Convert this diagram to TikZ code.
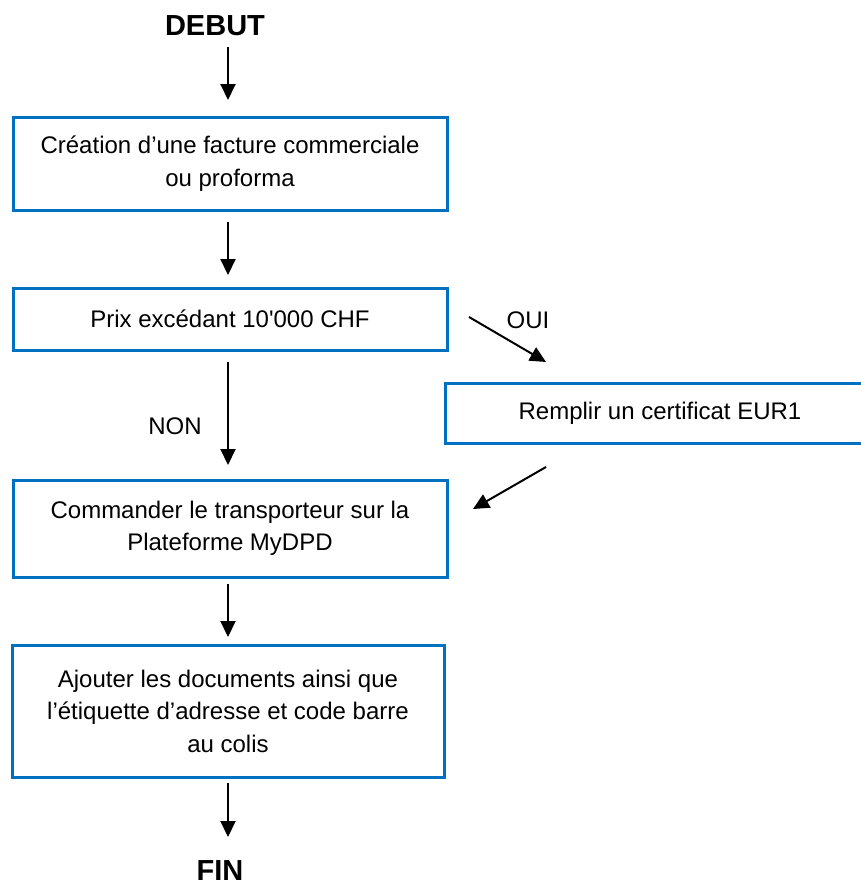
\documentclass[tikz,border=0pt]{standalone}
\usepackage{fontspec}
\setmainfont{Liberation Sans}
\usetikzlibrary{arrows.meta}
\definecolor{boxblue}{HTML}{0070C0}
\begin{document}
\begin{tikzpicture}[x=1pt,y=-1pt,
  box/.style={draw=boxblue,line width=3pt,align=center,inner sep=0pt,
    font=\fontsize{24}{32.5}\selectfont},
  term/.style={font=\fontsize{29}{32}\selectfont\bfseries,inner sep=0pt},
  lbl/.style={font=\fontsize{24}{32}\selectfont,inner sep=0pt},
  arr/.style={line width=2pt,-{Triangle[length=16pt,width=15pt]}}]
\useasboundingbox (0,0) rectangle (861,886);
\clip (0,0) rectangle (861,886);
\fill[white] (0,0) rectangle (861,886);
\node[term] (debut) at (215,26) {DEBUT};
\node[box,minimum width=434pt,minimum height=93pt] (b1) at (230,163.5)
  {Création d’une facture commerciale\\ou proforma};
\node[box,minimum width=434pt,minimum height=62pt] (b2) at (230,319)
  {Prix excédant 10\textquotesingle000 CHF};
\node[box,minimum width=430pt,minimum height=60pt] (eur) at (660,413)
  {Remplir un certificat EUR1};
\node[box,minimum width=434pt,minimum height=97pt] (b3) at (230,528.5)
  {Commander le transporteur sur la\\Plateforme MyDPD};
\node[box,minimum width=432pt,minimum height=132pt] (b4) at (228,711)
  {Ajouter les documents ainsi que\\l’étiquette d’adresse et code barre\\au colis};
\node[term] (fin) at (220,871) {FIN};
\node[lbl] (non) at (175,426) {NON};
\node[lbl] (oui) at (528,320) {OUI};
\coordinate (a1s) at (228,47); \coordinate (a1e) at (228,100);
\coordinate (a2s) at (228,222); \coordinate (a2e) at (228,275);
\coordinate (a3s) at (228,362); \coordinate (a3e) at (228,465);
\coordinate (a4s) at (228,584); \coordinate (a4e) at (228,637);
\coordinate (a5s) at (228,783); \coordinate (a5e) at (228,837);
\coordinate (o1) at (469,317); \coordinate (o2) at (546,362);
\coordinate (r1) at (546,467); \coordinate (r2) at (473,509);
\draw[arr] (a1s) -- (a1e);
\draw[arr] (a2s) -- (a2e);
\draw[arr] (a3s) -- (a3e);
\draw[arr] (a4s) -- (a4e);
\draw[arr] (a5s) -- (a5e);
\draw[arr] (o1) -- (o2);
\draw[arr] (r1) -- (r2);
\end{tikzpicture}
\end{document}
